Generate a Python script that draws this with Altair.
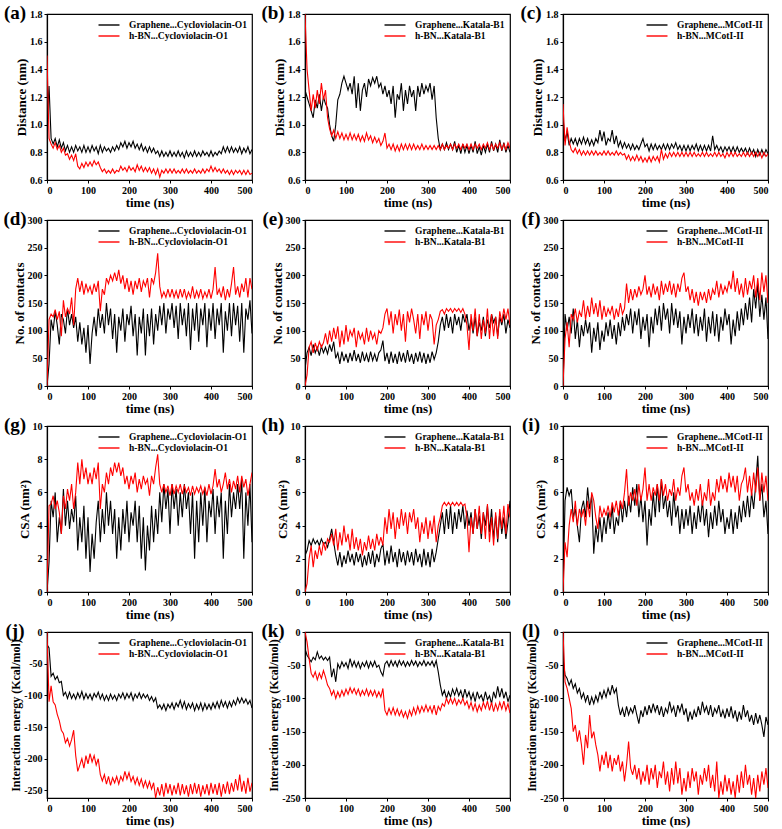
import altair as alt
import pandas as pd

T = list(range(0, 501, 5))

# ---------------- Distance (nm) ----------------
a_g = [1.00, 1.28, 0.90, 0.86, 0.90, 0.84, 0.89, 0.83, 0.87, 0.81,
       0.85, 0.80, 0.84, 0.80, 0.85, 0.81, 0.84, 0.80, 0.85, 0.80,
       0.84, 0.80, 0.85, 0.81, 0.84, 0.79, 0.85, 0.80, 0.84, 0.81,
       0.83, 0.80, 0.84, 0.81, 0.85, 0.82, 0.87, 0.84, 0.88, 0.83,
       0.87, 0.84, 0.88, 0.83, 0.86, 0.82, 0.86, 0.81, 0.84, 0.80,
       0.84, 0.80, 0.83, 0.79, 0.81, 0.77, 0.81, 0.77, 0.80, 0.77,
       0.81, 0.77, 0.80, 0.77, 0.81, 0.77, 0.80, 0.76, 0.81, 0.77,
       0.80, 0.77, 0.81, 0.77, 0.80, 0.77, 0.81, 0.78, 0.80, 0.77,
       0.81, 0.77, 0.80, 0.78, 0.81, 0.79, 0.84, 0.80, 0.84, 0.80,
       0.84, 0.80, 0.83, 0.80, 0.84, 0.79, 0.83, 0.80, 0.84, 0.79,
       0.82]
a_h = [1.50, 0.90, 0.86, 0.83, 0.87, 0.82, 0.85, 0.80, 0.83, 0.78,
       0.79, 0.75, 0.78, 0.74, 0.79, 0.70, 0.68, 0.72, 0.69, 0.73,
       0.70, 0.73, 0.70, 0.74, 0.71, 0.73, 0.69, 0.66, 0.68, 0.65,
       0.67, 0.65, 0.68, 0.65, 0.67, 0.66, 0.70, 0.67, 0.69, 0.66,
       0.70, 0.67, 0.69, 0.66, 0.71, 0.67, 0.70, 0.66, 0.69, 0.66,
       0.69, 0.65, 0.68, 0.64, 0.68, 0.62, 0.67, 0.65, 0.68, 0.65,
       0.68, 0.65, 0.68, 0.65, 0.67, 0.65, 0.68, 0.65, 0.68, 0.65,
       0.67, 0.65, 0.68, 0.65, 0.67, 0.65, 0.68, 0.65, 0.68, 0.66,
       0.70, 0.66, 0.69, 0.66, 0.68, 0.65, 0.68, 0.65, 0.67, 0.64,
       0.67, 0.64, 0.67, 0.65, 0.67, 0.64, 0.67, 0.64, 0.67, 0.64,
       0.65]
b_g = [1.25, 1.20, 1.15, 1.10, 1.05, 1.18, 1.12, 1.22, 1.10, 1.20,
       1.15, 1.12, 1.00, 0.92, 0.88, 1.00, 1.18, 1.22, 1.30, 1.35,
       1.30, 1.25, 1.30, 1.22, 1.35, 1.12, 1.30, 1.10, 1.25, 1.30,
       1.20, 1.33, 1.28, 1.34, 1.30, 1.35, 1.27, 1.30, 1.22, 1.28,
       1.20, 1.25, 1.15, 1.28, 1.05, 1.22, 1.18, 1.30, 1.10, 1.25,
       1.15, 1.28, 1.20, 1.25, 1.10, 1.28, 1.20, 1.30, 1.22, 1.28,
       1.24, 1.30, 1.18, 1.28, 1.05, 0.90, 0.82, 0.86, 0.82, 0.87,
       0.82, 0.86, 0.82, 0.88, 0.80, 0.85, 0.79, 0.86, 0.80, 0.85,
       0.79, 0.85, 0.80, 0.88, 0.79, 0.84, 0.78, 0.85, 0.80, 0.86,
       0.80, 0.88, 0.81, 0.86, 0.80, 0.89, 0.81, 0.87, 0.80, 0.85,
       0.80]
b_h = [1.80, 1.40, 1.25, 1.10, 1.22, 1.12, 1.25, 1.15, 1.30, 1.18,
       1.25, 1.05, 0.97, 0.92, 0.96, 0.90, 0.95, 0.90, 0.94, 0.89,
       0.93, 0.89, 0.94, 0.89, 0.93, 0.89, 0.93, 0.88, 0.92, 0.88,
       0.94, 0.89, 0.92, 0.87, 0.91, 0.87, 0.90, 0.85, 0.88, 0.94,
       0.83, 0.86, 0.82, 0.86, 0.81, 0.85, 0.81, 0.86, 0.82, 0.86,
       0.82, 0.86, 0.82, 0.86, 0.82, 0.85, 0.82, 0.86, 0.82, 0.85,
       0.82, 0.85, 0.82, 0.85, 0.82, 0.85, 0.82, 0.86, 0.82, 0.85,
       0.83, 0.86, 0.82, 0.86, 0.83, 0.86, 0.82, 0.86, 0.83, 0.86,
       0.82, 0.86, 0.82, 0.86, 0.83, 0.86, 0.82, 0.86, 0.83, 0.87,
       0.82, 0.86, 0.82, 0.86, 0.83, 0.87, 0.82, 0.86, 0.82, 0.87,
       0.83]
c_g = [1.05, 0.88, 0.95, 0.85, 0.90, 0.86, 0.90, 0.85, 0.90, 0.86,
       0.91, 0.86, 0.90, 0.85, 0.89, 0.85, 0.90, 0.87, 0.96, 0.88,
       0.95, 0.85, 0.90, 0.88, 0.96, 0.86, 0.92, 0.84, 0.88, 0.83,
       0.87, 0.83, 0.86, 0.82, 0.86, 0.82, 0.85, 0.82, 0.86, 0.90,
       0.84, 0.86, 0.81, 0.86, 0.82, 0.86, 0.82, 0.85, 0.82, 0.86,
       0.82, 0.86, 0.82, 0.86, 0.83, 0.87, 0.82, 0.85, 0.81, 0.85,
       0.81, 0.85, 0.81, 0.85, 0.82, 0.86, 0.81, 0.85, 0.81, 0.85,
       0.81, 0.85, 0.81, 0.92, 0.82, 0.85, 0.81, 0.84, 0.80, 0.84,
       0.81, 0.84, 0.80, 0.84, 0.80, 0.84, 0.80, 0.83, 0.80, 0.83,
       0.79, 0.83, 0.79, 0.82, 0.77, 0.82, 0.78, 0.82, 0.78, 0.82,
       0.79]
c_h = [1.15, 0.85, 0.98, 0.88, 0.82, 0.80, 0.83, 0.79, 0.82, 0.78,
       0.81, 0.78, 0.81, 0.78, 0.81, 0.78, 0.81, 0.78, 0.80, 0.78,
       0.81, 0.78, 0.81, 0.78, 0.80, 0.78, 0.81, 0.78, 0.80, 0.78,
       0.79, 0.75, 0.78, 0.74, 0.77, 0.74, 0.78, 0.74, 0.77, 0.73,
       0.76, 0.73, 0.77, 0.73, 0.77, 0.74, 0.77, 0.73, 0.82, 0.75,
       0.79, 0.76, 0.80, 0.77, 0.80, 0.77, 0.80, 0.77, 0.80, 0.77,
       0.80, 0.77, 0.80, 0.77, 0.80, 0.77, 0.79, 0.77, 0.80, 0.77,
       0.80, 0.77, 0.79, 0.77, 0.80, 0.77, 0.80, 0.77, 0.79, 0.76,
       0.80, 0.77, 0.80, 0.77, 0.80, 0.77, 0.79, 0.77, 0.80, 0.77,
       0.80, 0.77, 0.80, 0.77, 0.80, 0.77, 0.80, 0.76, 0.80, 0.77,
       0.79]

# ---------------- No. of contacts ----------------
d_g = [0, 40, 120, 100, 135, 110, 75, 130, 120, 95,
       140, 110, 130, 105, 125, 80, 115, 75, 105, 60,
       110, 40, 95, 125, 90, 140, 105, 130, 95, 150,
       110, 140, 85, 130, 60, 125, 100, 140, 80, 130,
       110, 145, 90, 130, 55, 125, 95, 140, 55, 130,
       90, 140, 75, 130, 100, 145, 110, 150, 95, 140,
       120, 150, 105, 145, 85, 150, 110, 140, 90, 150,
       65, 140, 100, 150, 80, 140, 110, 150, 70, 140,
       100, 150, 85, 140, 110, 150, 60, 135, 100, 150,
       90, 150, 110, 145, 80, 150, 60, 140, 120, 155,
       95]
d_h = [0, 120, 130, 125, 138, 120, 135, 90, 155, 125,
       140, 130, 160, 110, 175, 195, 170, 190, 165, 185,
       170, 180, 165, 185, 170, 190, 135, 175, 165, 195,
       185, 200, 190, 205, 190, 210, 185, 200, 175, 195,
       170, 190, 165, 190, 175, 195, 170, 190, 180, 195,
       160, 195, 185, 205, 240, 180, 160, 170, 160, 175,
       160, 175, 160, 172, 158, 175, 160, 175, 158, 170,
       160, 180, 158, 172, 160, 175, 158, 170, 160, 175,
       158, 175, 215, 165, 175, 160, 180, 155, 175, 160,
       185, 215, 165, 180, 160, 185, 170, 195, 160, 195,
       175]
e_g = [30, 60, 70, 55, 75, 60, 70, 55, 72, 60,
       70, 58, 75, 62, 80, 50, 60, 40, 62, 45,
       58, 42, 60, 45, 65, 45, 58, 42, 62, 45,
       58, 43, 62, 46, 58, 44, 60, 65, 82, 45,
       60, 40, 62, 42, 58, 40, 62, 44, 60, 42,
       65, 44, 58, 40, 60, 44, 62, 42, 60, 40,
       58, 42, 62, 48, 60, 80, 110, 125, 100, 130,
       105, 125, 95, 130, 110, 125, 100, 130, 115, 130,
       100, 120, 95, 125, 90, 115, 100, 125, 90, 120,
       105, 130, 115, 125, 90, 125, 110, 130, 95, 120,
       105]
e_h = [0, 20, 70, 80, 60, 78, 65, 80, 70, 78,
       95, 75, 100, 80, 105, 85, 108, 70, 100, 75,
       110, 80, 100, 90, 105, 70, 100, 85, 95, 75,
       105, 80, 100, 85, 95, 75, 100, 95, 105, 130,
       140, 110, 135, 95, 130, 110, 138, 100, 130, 80,
       135, 115, 140, 120, 95, 130, 85, 130, 110, 135,
       100, 130, 120, 75, 110, 120, 135, 138, 130, 140,
       135, 140, 133, 140, 135, 140, 133, 140, 130, 110,
       65, 130, 100, 140, 90, 130, 85, 120, 95, 140,
       85, 130, 90, 125, 85, 135, 115, 140, 120, 140,
       110]
f_g = [0, 130, 100, 125, 95, 140, 85, 120, 70, 110,
       90, 120, 95, 115, 60, 105, 80, 115, 65, 100,
       80, 115, 90, 120, 85, 110, 75, 115, 90, 125,
       100, 130, 110, 140, 95, 135, 110, 140, 85, 125,
       100, 130, 70, 125, 95, 140, 110, 145, 100, 150,
       120, 140, 95, 150, 110, 140, 105, 135, 75, 125,
       95, 130, 105, 140, 95, 130, 90, 125, 100, 140,
       80, 125, 95, 135, 90, 130, 80, 125, 100, 140,
       110, 130, 75, 120, 90, 135, 100, 140, 110, 150,
       120, 160, 115, 175, 140, 185, 125, 165, 120, 160,
       85]
f_h = [0, 85, 115, 70, 130, 120, 140, 115, 135, 125,
       155, 120, 145, 125, 160, 130, 150, 125, 155, 120,
       145, 125, 140, 130, 145, 120, 140, 125, 150, 130,
       140, 185, 150, 175, 155, 175, 160, 180, 165, 175,
       200, 165, 180, 160, 185, 165, 180, 155, 190, 165,
       185, 170, 190, 165, 185, 160, 185, 170, 195, 205,
       170, 180, 155, 175, 150, 170, 145, 170, 155, 170,
       150, 175, 155, 175, 165, 190, 160, 185, 165, 180,
       170, 190, 175, 208, 170, 195, 165, 185, 160, 195,
       165, 190, 175, 200, 160, 195, 155, 205, 170, 200,
       150]

# ---------------- CSA (nm2) ----------------
g_g = [0, 1.8, 5.5, 4.5, 6.0, 3.0, 4.5, 3.5, 6.2, 4.0,
       5.5, 3.8, 5.0, 4.2, 5.8, 2.5, 4.5, 3.0, 5.2, 2.0,
       4.5, 1.2, 3.5, 2.0, 4.2, 5.5, 3.0, 5.0, 3.5, 6.0,
       4.0, 5.5, 3.5, 5.0, 2.0, 4.5, 2.5, 5.0, 3.5, 5.5,
       3.0, 4.8, 4.0, 5.5, 3.0, 5.2, 2.0, 4.5, 1.3, 4.0,
       2.5, 5.2, 3.0, 5.0, 3.5, 6.0, 4.2, 6.5, 5.0, 6.2,
       3.5, 6.5, 5.0, 6.2, 4.0, 6.0, 4.5, 6.5, 5.0, 6.0,
       3.5, 6.0, 2.0, 5.5, 3.0, 6.0, 4.0, 6.3, 3.0, 5.5,
       4.5, 6.2, 3.5, 5.8, 4.5, 6.0, 2.0, 5.5, 3.5, 6.5,
       4.5, 6.0, 5.0, 6.5, 5.0, 6.8, 2.0, 6.0, 4.0, 6.5,
       3.0]
g_h = [0, 5.2, 5.3, 5.8, 5.0, 5.5, 4.8, 3.5, 5.8, 5.0,
       6.2, 5.5, 6.5, 5.0, 6.0, 7.8, 6.5, 8.0, 6.8, 7.5,
       6.5, 7.2, 6.5, 7.5, 6.8, 7.8, 5.0, 6.5, 6.0, 7.2,
       6.5, 7.5, 7.0, 7.8, 7.2, 7.8, 7.0, 7.5, 6.5, 7.0,
       6.2, 7.0, 6.5, 7.2, 6.0, 6.8, 6.2, 7.0, 6.5, 6.8,
       5.8, 7.0, 6.5, 7.5, 8.3, 6.5, 6.0, 6.5, 6.0, 6.4,
       5.8, 6.5, 5.9, 6.4, 6.0, 6.5, 5.9, 6.4, 6.0, 6.3,
       5.8, 6.4, 5.9, 6.3, 6.0, 6.4, 5.9, 6.3, 5.8, 6.5,
       5.9, 6.4, 7.4, 6.3, 6.8, 6.0, 6.5, 7.2, 6.2, 6.8,
       6.0, 6.7, 6.2, 7.0, 6.0, 7.0, 6.3, 6.8, 5.8, 6.5,
       7.2]
h_g = [2.2, 2.5, 3.1, 2.8, 3.2, 2.9, 3.1, 2.8, 3.2, 2.9,
       3.0, 2.7, 3.2, 3.8, 3.0, 2.2, 1.6, 2.4, 1.5, 2.2,
       1.7, 2.5, 1.8, 2.3, 1.6, 2.4, 1.8, 2.3, 1.5, 2.2,
       1.6, 2.4, 1.7, 2.5, 1.5, 2.3, 1.8, 2.6, 2.9, 1.6,
       2.5, 1.7, 2.8, 1.8, 2.4, 1.5, 2.6, 1.8, 2.4, 1.6,
       2.5, 1.8, 2.4, 1.6, 2.6, 1.8, 2.3, 1.5, 2.6, 1.6,
       2.4, 1.5, 2.6, 1.8, 2.4, 3.2, 4.0, 4.8, 3.5, 5.0,
       3.8, 5.2, 3.5, 4.8, 3.8, 5.0, 4.2, 5.2, 3.8, 4.9,
       4.0, 4.8, 3.5, 5.0, 3.8, 4.6, 3.2, 4.8, 4.0, 5.2,
       3.6, 5.0, 3.2, 4.6, 3.0, 4.8, 3.5, 4.5, 3.2, 4.2,
       5.5]
h_h = [0, 0.5, 2.0, 2.8, 1.5, 2.5, 2.0, 2.8, 2.2, 3.0,
       2.5, 3.2, 3.0, 3.5, 2.8, 3.8, 2.5, 3.6, 2.8, 4.0,
       3.0, 3.5, 2.5, 3.8, 2.6, 3.3, 2.5, 3.2, 2.2, 3.0,
       2.5, 3.4, 2.6, 3.2, 2.5, 3.5, 2.8, 3.3, 2.8, 4.5,
       3.5, 5.0, 3.8, 4.8, 3.2, 4.5, 3.8, 5.0, 4.0, 4.8,
       3.5, 4.8, 4.2, 5.0, 3.8, 4.5, 3.0, 4.2, 3.5, 4.5,
       3.2, 4.3, 3.5, 4.6, 3.0, 4.0, 4.5, 5.2, 5.4, 5.2,
       5.4, 5.2, 5.4, 5.2, 5.4, 5.2, 5.4, 5.2, 5.3, 4.5,
       2.4, 4.5, 3.5, 5.0, 3.8, 5.2, 3.5, 4.8, 3.2, 5.3,
       3.0, 4.5, 2.8, 4.8, 3.2, 5.0, 3.8, 5.2, 3.5, 5.3,
       4.5]
i_g = [0, 5.5, 6.3, 5.8, 6.2, 4.5, 5.0, 4.0, 3.0, 5.0,
       5.5, 4.5, 6.3, 5.0, 5.8, 2.3, 4.0, 3.0, 4.5, 3.0,
       4.5, 3.5, 4.8, 3.8, 5.2, 3.5, 4.5, 4.0, 5.5, 4.2,
       5.5, 4.5, 5.8, 4.8, 6.3, 5.2, 6.5, 4.5, 5.8, 4.2,
       5.5, 2.8, 5.0, 4.0, 6.0, 4.5, 6.5, 4.8, 6.8, 5.0,
       5.8, 4.5, 5.5, 4.0, 6.0, 4.5, 5.2, 3.5, 5.0, 3.8,
       5.0, 4.0, 5.2, 3.5, 4.8, 3.8, 5.2, 4.2, 5.5, 4.0,
       5.0, 3.3, 4.8, 3.8, 5.2, 4.0, 5.5, 4.2, 5.0, 3.5,
       4.5, 3.8, 5.0, 3.5, 4.8, 3.8, 5.2, 4.2, 5.5, 4.5,
       5.8, 4.5, 6.0, 5.0, 6.5, 8.2, 5.5, 6.5, 4.5, 5.5,
       3.5]
i_h = [0, 3.0, 2.1, 4.0, 5.0, 4.2, 5.5, 4.0, 5.0, 4.5,
       5.0, 4.0, 5.5, 4.5, 6.0, 5.5, 4.5, 3.8, 5.2, 4.5,
       5.0, 4.6, 5.2, 4.5, 5.4, 4.8, 5.5, 4.6, 5.5, 5.0,
       6.0, 7.4, 5.2, 6.0, 5.5, 6.2, 5.2, 6.5, 5.5, 6.2,
       7.5, 5.5, 6.5, 5.5, 6.3, 5.8, 6.5, 5.5, 6.8, 5.8,
       6.5, 5.5, 6.2, 5.8, 6.8, 5.5, 6.3, 5.8, 7.0, 7.5,
       6.0, 6.5, 5.5, 6.0, 5.2, 6.2, 5.5, 6.5, 5.2, 6.0,
       5.5, 6.8, 5.2, 6.0, 5.5, 6.8, 6.0, 7.0, 6.2, 6.8,
       6.0, 7.2, 6.3, 7.0, 6.0, 7.0, 5.5, 6.5, 6.8, 7.5,
       6.0, 7.0, 5.8, 7.2, 6.0, 7.5, 5.5, 7.2, 6.0, 7.0,
       5.5]

# ---------------- Interaction energy (Kcal/mol) ----------------
j_g = [-20, -25, -70, -65, -75, -70, -80, -78, -100, -95,
       -105, -95, -105, -98, -106, -96, -104, -94, -106, -97,
       -105, -98, -107, -97, -103, -95, -106, -98, -108, -100,
       -108, -98, -106, -100, -108, -98, -104, -96, -106, -97,
       -104, -96, -108, -98, -104, -96, -105, -98, -104, -99,
       -108, -102, -110, -104, -120, -115, -122, -114, -124, -114,
       -120, -112, -122, -112, -118, -108, -120, -110, -122, -113,
       -120, -112, -124, -114, -122, -112, -124, -113, -122, -114,
       -122, -112, -120, -110, -120, -108, -118, -110, -120, -110,
       -118, -108, -115, -104, -112, -104, -112, -106, -114, -108,
       -120]
j_h = [0, -110, -85, -110, -115, -130, -140, -155, -160, -175,
       -168, -180, -170, -155, -195, -220, -210, -200, -215, -195,
       -208, -192, -205, -195, -210, -200, -225, -235, -225, -240,
       -228, -242, -230, -238, -228, -240, -228, -235, -220, -232,
       -222, -236, -228, -240, -230, -242, -232, -245, -235, -246,
       -236, -248, -238, -262, -245, -258, -240, -260, -238, -255,
       -240, -258, -242, -256, -238, -258, -240, -256, -242, -260,
       -240, -256, -238, -255, -240, -260, -242, -256, -240, -258,
       -238, -255, -240, -257, -238, -260, -240, -255, -236, -256,
       -238, -252, -232, -250, -225, -252, -235, -255, -230, -252,
       -238]
k_g = [-25, -35, -40, -45, -38, -42, -30, -40, -36, -42,
       -38, -43, -38, -68, -55, -75, -48, -55, -45, -52,
       -46, -55, -40, -52, -44, -53, -45, -55, -46, -52,
       -44, -54, -45, -52, -44, -53, -50, -60, -66, -48,
       -44, -52, -43, -51, -44, -52, -43, -50, -44, -52,
       -45, -51, -43, -50, -44, -52, -45, -50, -43, -51,
       -45, -50, -44, -52, -43, -60, -80, -95, -88, -100,
       -90, -98, -86, -95, -85, -96, -88, -100, -86, -98,
       -90, -102, -92, -105, -90, -100, -95, -105, -90, -102,
       -96, -108, -90, -100, -82, -98, -85, -100, -90, -105,
       -95]
k_h = [0, -15, -40, -62, -68, -60, -72, -62, -70, -58,
       -68, -80, -85, -95, -88, -100, -90, -98, -88, -96,
       -86, -94, -84, -92, -85, -94, -86, -96, -88, -95,
       -86, -96, -88, -96, -88, -98, -90, -98, -85, -118,
       -125, -115, -124, -114, -125, -116, -126, -118, -128, -120,
       -130, -118, -126, -114, -124, -112, -122, -112, -120, -110,
       -120, -112, -122, -110, -125, -112, -118, -108, -112, -100,
       -108, -100, -108, -100, -110, -102, -108, -100, -110, -104,
       -115, -106, -118, -108, -120, -110, -118, -106, -115, -104,
       -118, -106, -120, -108, -118, -106, -116, -104, -118, -108,
       -122]
l_g = [-40, -65, -70, -80, -72, -85, -78, -92, -85, -100,
       -92, -105, -95, -110, -98, -108, -96, -105, -90, -100,
       -88, -98, -85, -95, -80, -92, -85, -110, -125, -115,
       -128, -112, -125, -115, -122, -110, -125, -138, -118, -128,
       -112, -125, -110, -122, -108, -120, -110, -125, -112, -128,
       -115, -122, -105, -120, -112, -128, -110, -120, -108, -125,
       -115, -135, -120, -132, -118, -128, -112, -125, -105, -120,
       -112, -125, -110, -128, -115, -122, -110, -128, -118, -130,
       -115, -128, -112, -130, -118, -135, -120, -132, -110, -128,
       -118, -135, -125, -140, -122, -138, -125, -140, -158, -128,
       -140]
l_h = [0, -75, -85, -100, -115, -150, -140, -165, -148, -170,
       -200, -155, -175, -125, -160, -150, -170, -185, -210, -185,
       -200, -180, -205, -185, -210, -190, -200, -185, -210, -195,
       -225, -200, -165, -205, -215, -200, -222, -205, -230, -210,
       -225, -200, -230, -205, -222, -200, -235, -210, -220, -195,
       -230, -210, -240, -205, -230, -195, -228, -205, -245, -220,
       -240, -210, -235, -205, -225, -210, -245, -215, -230, -205,
       -225, -200, -235, -215, -240, -195, -250, -225, -245, -215,
       -240, -220, -245, -225, -250, -215, -242, -210, -235, -200,
       -230, -215, -245, -220, -250, -215, -240, -210, -230, -205,
       -235]

# ---------------- labels ----------------
PEPTIDES = ["Cycloviolacin-O1", "Katala-B1", "MCotI-II"]
LETTERS = ["a", "b", "c", "d", "e", "f", "g", "h", "i", "j", "k", "l"]
X_TICKS = [0, 100, 200, 300, 400, 500]
DIST_TICKS = [0.6, 0.8, 1.0, 1.2, 1.4, 1.6, 1.8]
CONT_TICKS = [0, 50, 100, 150, 200, 250, 300]
CSA_TICKS = [0, 2, 4, 6, 8, 10]
EN_TICKS = [0, -50, -100, -150, -200, -250]

FONT = "Liberation Serif"
W, H = 205, 166


def panel(letter, g, h, pep, ytitle, ydom, yvals, yfmt, ysize):
    assert len(g) == len(T) and len(h) == len(T), (letter, len(g), len(h))
    gl = "Graphene..." + pep
    hl = "h-BN..." + pep
    n = len(T)
    df = pd.DataFrame({"t": T + T, "v": g + h, "s": [gl] * n + [hl] * n})
    lines = alt.Chart(df).mark_line(strokeWidth=1.1, clip=True).encode(
        x=alt.X("t:Q", scale=alt.Scale(domain=[0, 500], nice=False, zero=False),
                axis=alt.Axis(values=X_TICKS, format="d", title="time (ns)")),
        y=alt.Y("v:Q", scale=alt.Scale(domain=ydom, nice=False, zero=False),
                axis=alt.Axis(values=yvals, format=yfmt, title=ytitle,
                              titleFontSize=ysize,
                              labelExpr="replace(datum.label, '\u2212', '-')")),
        color=alt.Color("s:N",
                        scale=alt.Scale(domain=[gl, hl], range=["#000000", "#ff0000"]),
                        legend=alt.Legend(title=None, orient="top-right")),
    )
    lab = alt.Chart(pd.DataFrame({"l": ["(" + letter + ")"]})).mark_text(
        font=FONT, fontWeight="bold", fontSize=19, align="center", baseline="middle",
        color="black"
    ).encode(text="l:N", x=alt.value(-32), y=alt.value(-1))
    return alt.layer(lines, lab).properties(width=W, height=H)


rows_spec = [
    ([a_g, b_g, c_g], [a_h, b_h, c_h], "Distance (nm)", [0.6, 1.8], DIST_TICKS, ".1f", 13),
    ([d_g, e_g, f_g], [d_h, e_h, f_h], "No. of contacts", [0, 300], CONT_TICKS, "d", 13),
    ([g_g, h_g, i_g], [g_h, h_h, i_h], "CSA (nm²)", [0, 10], CSA_TICKS, "d", 13),
    ([j_g, k_g, l_g], [j_h, k_h, l_h], "Interaction energy (Kcal/mol)", None, EN_TICKS, "d", 12),
]
EN_DOMS = [[-262, 0], [-250, 0], [-250, 0]]

panels = []
li = 0
for r, (gs, hs, yt, dom, vals, fmt, ys) in enumerate(rows_spec):
    for c in range(3):
        d = dom if dom is not None else EN_DOMS[c]
        panels.append(panel(LETTERS[li], gs[c], hs[c], PEPTIDES[c], yt, d, vals, fmt, ys))
        li += 1

chart = alt.concat(
    *panels, columns=3, spacing={"row": 40, "column": 53}, bounds="flush"
).resolve_scale(
    color="independent", x="independent", y="independent"
).properties(
    padding={"left": 2, "top": 3, "right": 2, "bottom": 0}
).configure_view(
    stroke="black", strokeWidth=1.2
).configure_axis(
    labelFont=FONT, labelFontWeight="bold", labelFontSize=10, labelColor="black",
    titleFont=FONT, titleFontWeight="bold", titleFontSize=13, titleColor="black",
    grid=False, domainColor="black", domainWidth=1.2, tickColor="black", tickSize=3,
    labelPadding=2, titlePadding=1
).configure_legend(
    labelFont=FONT, labelFontWeight="bold", labelFontSize=9.5, labelColor="black",
    symbolType="M-2,0H2", symbolSize=110, symbolStrokeWidth=1.4, labelOffset=14,
    rowPadding=0, padding=0, offset=5
)

chart.save("out.html", embed_options={"renderer": "svg", "actions": False})
